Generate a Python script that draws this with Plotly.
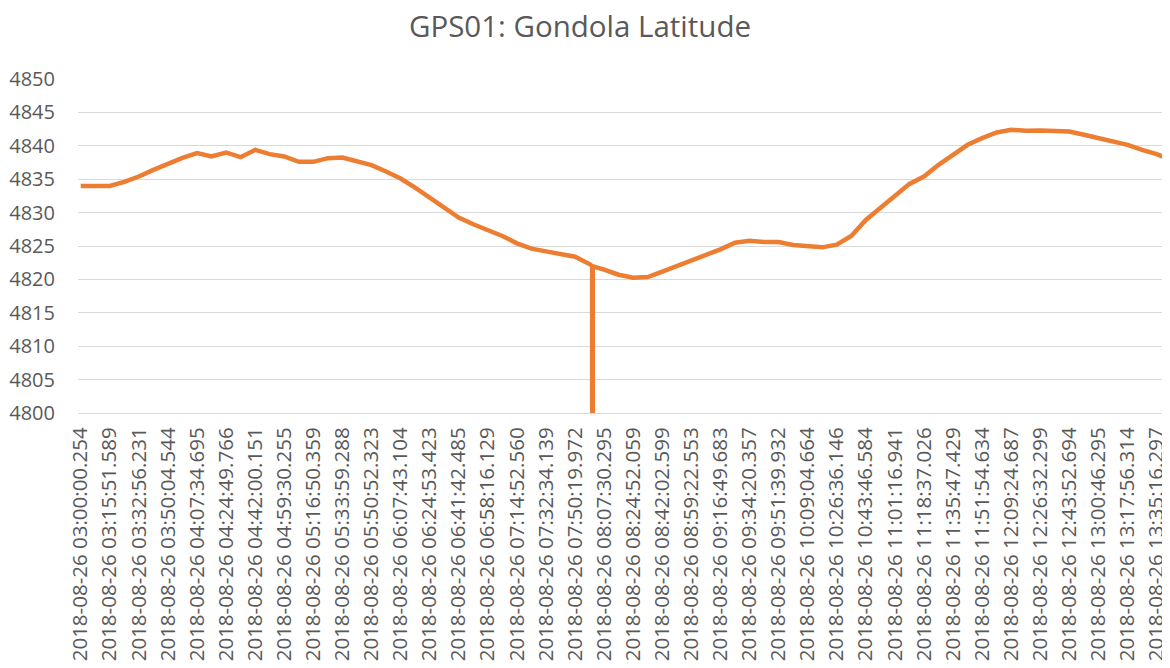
import numpy as np
import plotly.graph_objects as go

# Category labels shown on the x axis (every labelled sample)
tick_labels = [
    "2018-08-26 03:00:00.254", "2018-08-26 03:15:51.589", "2018-08-26 03:32:56.231",
    "2018-08-26 03:50:04.544", "2018-08-26 04:07:34.695", "2018-08-26 04:24:49.766",
    "2018-08-26 04:42:00.151", "2018-08-26 04:59:30.255", "2018-08-26 05:16:50.359",
    "2018-08-26 05:33:59.288", "2018-08-26 05:50:52.323", "2018-08-26 06:07:43.104",
    "2018-08-26 06:24:53.423", "2018-08-26 06:41:42.485", "2018-08-26 06:58:16.129",
    "2018-08-26 07:14:52.560", "2018-08-26 07:32:34.139", "2018-08-26 07:50:19.972",
    "2018-08-26 08:07:30.295", "2018-08-26 08:24:52.059", "2018-08-26 08:42:02.599",
    "2018-08-26 08:59:22.553", "2018-08-26 09:16:49.683", "2018-08-26 09:34:20.357",
    "2018-08-26 09:51:39.932", "2018-08-26 10:09:04.664", "2018-08-26 10:26:36.146",
    "2018-08-26 10:43:46.584", "2018-08-26 11:01:16.941", "2018-08-26 11:18:37.026",
    "2018-08-26 11:35:47.429", "2018-08-26 11:51:54.634", "2018-08-26 12:09:24.687",
    "2018-08-26 12:26:32.299", "2018-08-26 12:43:52.694", "2018-08-26 13:00:46.295",
    "2018-08-26 13:17:56.314", "2018-08-26 13:35:16.297",
]

latitude = [
    4834.0, 4834.0, 4834.0, 4834.6, 4835.4, 4836.4, 4837.3, 4838.2,
    4838.9, 4838.4, 4839.0, 4838.3, 4839.4, 4838.75, 4838.4, 4837.6,
    4837.6, 4838.15, 4838.25, 4837.6, 4837.1, 4836.15, 4835.1, 4833.75,
    4832.25, 4830.75, 4829.25, 4828.25, 4827.4, 4826.5, 4825.4, 4824.6,
    4824.2, 4823.85, 4823.4, 4822.3, 4821.45, 4820.7, 4820.25, 4820.35,
    4821.15, 4822.0, 4822.75, 4823.7, 4824.5, 4825.5, 4825.8, 4825.6,
    4825.6, 4825.15, 4824.9, 4824.8, 4825.2, 4826.5, 4828.9, 4830.65,
    4832.4, 4834.3, 4835.4, 4837.15, 4838.65, 4840.15, 4841.15, 4842.0,
    4842.4, 4842.25, 4842.3, 4842.25, 4842.15, 4841.65, 4841.15, 4840.5,
    4840.15, 4839.4, 4838.75, 4837.9,
]

# Glitch sample (drop to zero) just before the 08:07:30 label
spike_pos = 17.59
spike_before = 4822.0
spike_value = 0.0
spike_after = 4821.95

SAMPLES_PER_LABEL = 2

xs = list(np.arange(len(latitude)) / SAMPLES_PER_LABEL)
ys = list(latitude)
ins = next(i for i, x in enumerate(xs) if x > spike_pos)
xs[ins:ins] = [spike_pos, spike_pos, spike_pos + 0.02]
ys[ins:ins] = [spike_before, spike_value, spike_after]

fig = go.Figure()
fig.add_trace(go.Scatter(
    x=xs, y=ys, mode="lines",
    line=dict(color="#ED7D31", width=4.5),
    showlegend=False,
))

txt = "#595959"
grid = "#d9d9d9"
font_family = "Open Sans"

# The page body has an 8px margin, so the figure is sized to fit the window.
W, H = 1162, 660

fig.update_layout(
    width=W, height=H,
    paper_bgcolor="white", plot_bgcolor="white",
    margin=dict(l=70, r=0, t=71.3, b=255.3, pad=0, autoexpand=False),
    title=dict(
        text="GPS01: Gondola Latitude",
        x=572 / W, xref="container", xanchor="center",
        y=1 - 19 / H, yref="container", yanchor="middle",
        font=dict(family=font_family, size=29.5, color=txt),
        automargin=False,
    ),
    font=dict(family=font_family, color=txt),
)

fig.update_xaxes(
    range=[-0.093, 37.46],
    tickmode="array",
    tickvals=list(range(len(tick_labels))),
    ticktext=tick_labels,
    tickangle=-90,
    tickfont=dict(family=font_family, size=20.5, color=txt),
    showgrid=False, zeroline=False,
    showline=True, linecolor=grid, linewidth=1.3,
    ticks="", ticklabelstandoff=5,
    automargin=False,
)

fig.update_yaxes(
    range=[4800, 4850],
    tickmode="linear", tick0=4800, dtick=5,
    tickfont=dict(family=font_family, size=20, color=txt),
    showgrid=True, gridcolor=grid, gridwidth=1.3,
    zeroline=False, showline=False,
    ticks="", ticklabelstandoff=22,
    automargin=False,
)

fig.write_html("out.html")
